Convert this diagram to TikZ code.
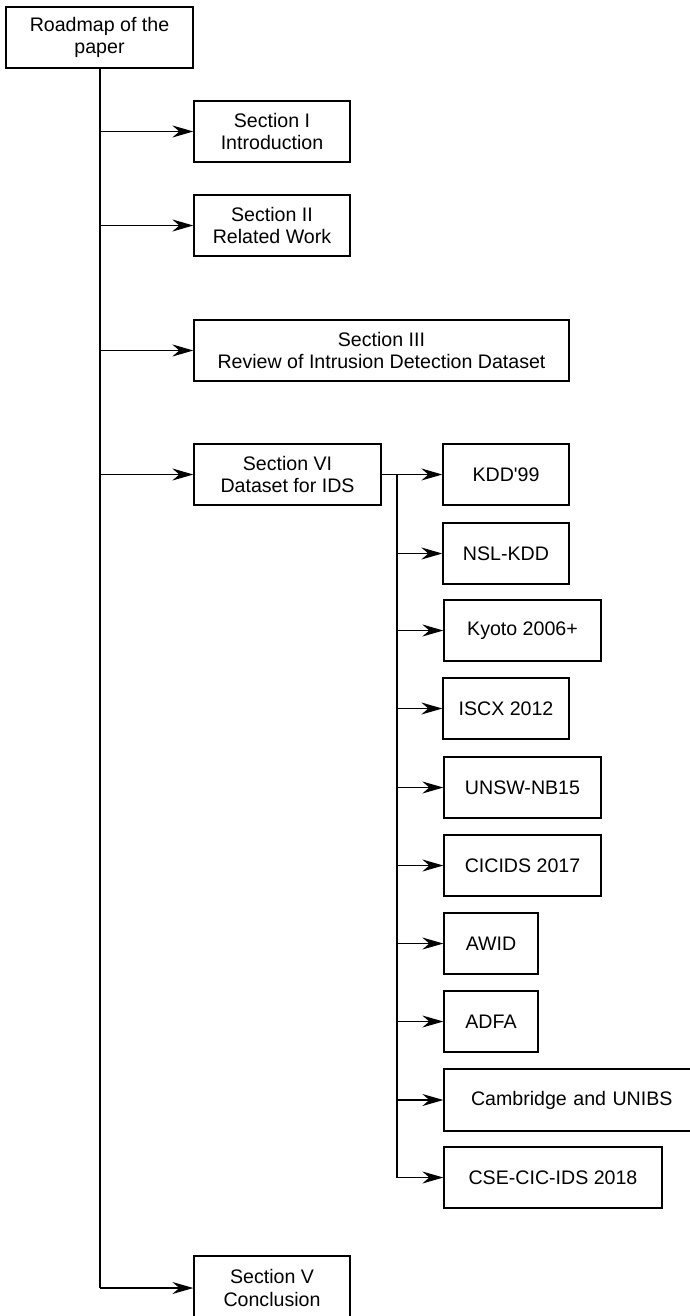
\documentclass[tikz,border=0pt]{standalone}
\usepackage{fontspec}
\setmainfont{Liberation Sans}
\usetikzlibrary{arrows.meta}
\begin{document}
\begin{tikzpicture}[x=1pt,y=-1pt,
  box/.style={draw, line width=1.3pt, inner sep=0pt, align=center,
    font=\fontsize{19.6}{22.5}\selectfont},
  arr/.style={line width=1.3pt, -{Stealth[length=21pt,width=12pt,inset=7pt]}},
  ln/.style={line width=1.3pt}]
\useasboundingbox[fill=white] (0,0) rectangle (690,1316);
\node[box, minimum width=187pt, minimum height=61pt] (root) at (99.5,37.5) {Roadmap of the\\paper};
\node[box, minimum width=156pt, minimum height=61pt] (s1) at (272,131.5) {Section I\\Introduction};
\node[box, minimum width=156pt, minimum height=61pt] (s2) at (272,225.5) {Section II\\Related Work};
\node[box, minimum width=375pt, minimum height=61pt] (s3) at (381.5,350.5) {Section III\\Review of Intrusion Detection Dataset};
\node[box, minimum width=187pt, minimum height=61pt] (s4) at (287.5,474.5) {Section VI\\Dataset for IDS};
\node[box, minimum width=156pt, minimum height=64pt] (s5) at (272,1288) {Section V\\Conclusion};
\node[box, minimum width=126pt, minimum height=61pt] (d1) at (506,474.5) {KDD\textquotesingle 99};
\node[box, minimum width=126pt, minimum height=61pt] (d2) at (506,553.5) {NSL-KDD};
\node[box, minimum width=157pt, minimum height=61pt] (d3) at (522.5,630.5) {Kyoto 2006+};
\node[box, minimum width=126pt, minimum height=61pt] (d4) at (506,708.5) {ISCX 2012};
\node[box, minimum width=157pt, minimum height=61pt] (d5) at (522.5,787.5) {UNSW-NB15};
\node[box, minimum width=157pt, minimum height=61pt] (d6) at (522.5,865.5) {CICIDS 2017};
\node[box, minimum width=94pt, minimum height=61pt] (d7) at (491,943.5) {AWID};
\node[box, minimum width=94pt, minimum height=61pt] (d8) at (491,1021.5) {ADFA};
\node[box, minimum width=250pt, minimum height=62pt, text width=250pt, align=left] (d9) at (569,1100) {\hspace*{27pt}Cambridge and UNIBS};
\node[box, minimum width=218pt, minimum height=61pt] (d10) at (553,1177.5) {CSE-CIC-IDS 2018};
% trunk
\coordinate (t) at (100,68);
\draw[ln] (t) -- (t |- s5.west);
\foreach \n in {s1,s2,s3,s4,s5} \draw[arr] (t |- \n.west) -- (\n.west);
% branch
\draw[arr] (s4.east) -- (d1.west);
\coordinate (b) at (397,474.5);
\draw[ln] (b) -- (b |- d10.west);
\foreach \n in {d2,d3,d4,d5,d6,d7,d8,d9,d10} \draw[arr] (b |- \n.west) -- (\n.west);
\end{tikzpicture}
\end{document}
